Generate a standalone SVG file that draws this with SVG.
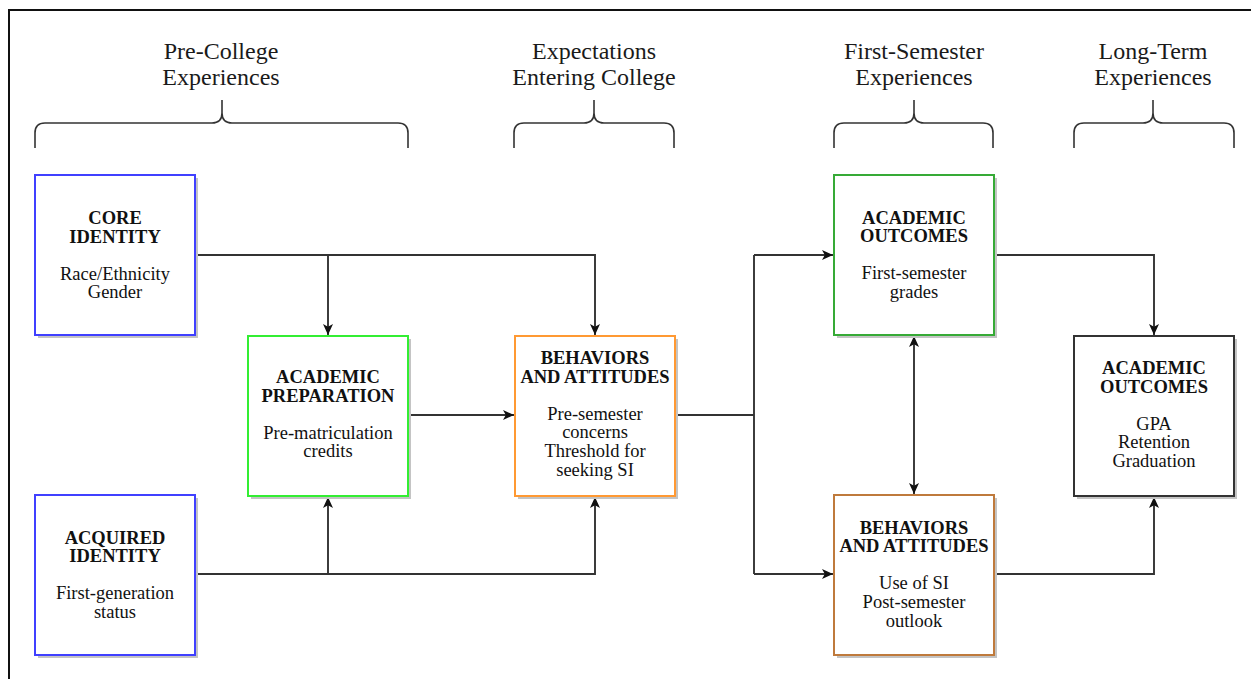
<svg xmlns="http://www.w3.org/2000/svg" width="1251" height="679" viewBox="0 0 1251 679">
<style>
.t{font-family:"Liberation Serif","Times New Roman",serif;font-size:24px;fill:#1a1a1a;text-anchor:middle}
.n{font-family:"Liberation Serif","Times New Roman",serif;font-size:18.5px;fill:#111;text-anchor:middle}
.b{font-weight:bold}
.sh{fill:#c4c4c4}
.box{fill:#fff;stroke-width:2}
.brace{fill:none;stroke:#333;stroke-width:1.6}
.c{fill:none;stroke:#333;stroke-width:1.9}
</style>
<defs>
<marker id="ah" markerUnits="userSpaceOnUse" markerWidth="13" markerHeight="13" viewBox="0 0 13 13" refX="12" refY="6.5" orient="auto-start-reverse">
<path d="M1,1.5 L12,6.5 L1,11.5 L3.8,6.5 Z" fill="#111"/>
</marker>
</defs>
<rect width="1251" height="679" fill="#fff"/>
<path d="M9,679 V10 H1251" fill="none" stroke="#111" stroke-width="2"/>

<g id="headers">
<text class="t" x="221" y="59">Pre-College</text>
<text class="t" x="221" y="85">Experiences</text>
<text class="t" x="594" y="59">Expectations</text>
<text class="t" x="594" y="85">Entering College</text>
<text class="t" x="914" y="59">First-Semester</text>
<text class="t" x="914" y="85">Experiences</text>
<text class="t" x="1153" y="59">Long-Term</text>
<text class="t" x="1153" y="85">Experiences</text>
<path class="brace" d="M35,148 V133 Q35,123 45,123 H212 Q222,123 222,113 V100 M222,113 Q222,123 232,123 H398 Q408,123 408,133 V148"/>
<path class="brace" d="M514,148 V133 Q514,123 524,123 H584 Q594,123 594,113 V100 M594,113 Q594,123 604,123 H664 Q674,123 674,133 V148"/>
<path class="brace" d="M834,148 V133 Q834,123 844,123 H904 Q914,123 914,113 V100 M914,113 Q914,123 924,123 H983 Q993,123 993,133 V148"/>
<path class="brace" d="M1074,148 V133 Q1074,123 1084,123 H1143 Q1153,123 1153,113 V100 M1153,113 Q1153,123 1163,123 H1224 Q1234,123 1234,133 V148"/>
</g>

<g id="connectors">
<path class="c" d="M195,255 H595 V335" marker-end="url(#ah)"/>
<path class="c" d="M328,255 V335" marker-end="url(#ah)"/>
<path class="c" d="M195,574 H595 V497" marker-end="url(#ah)"/>
<path class="c" d="M328,574 V497" marker-end="url(#ah)"/>
<path class="c" d="M408,415 H514" marker-end="url(#ah)"/>
<path class="c" d="M675,415 H754"/>
<path class="c" d="M754,255 V574"/>
<path class="c" d="M754,255 H833" marker-end="url(#ah)"/>
<path class="c" d="M754,574 H833" marker-end="url(#ah)"/>
<path class="c" d="M914,336 V494" marker-start="url(#ah)" marker-end="url(#ah)"/>
<path class="c" d="M994,255 H1154 V335" marker-end="url(#ah)"/>
<path class="c" d="M994,574 H1154 V497" marker-end="url(#ah)"/>
</g>

<g id="core-identity">
<rect class="sh" x="38" y="178" width="160" height="160"/>
<rect class="box" x="35" y="175" width="160" height="160" stroke="#4040ff"/>
<text class="n b" x="115" y="224">CORE</text>
<text class="n b" x="115" y="242.6">IDENTITY</text>
<text class="n" x="115" y="279.8">Race/Ethnicity</text>
<text class="n" x="115" y="298.4">Gender</text>
</g>

<g id="acquired-identity">
<rect class="sh" x="38" y="498" width="160" height="160"/>
<rect class="box" x="35" y="495" width="160" height="160" stroke="#4040ff"/>
<text class="n b" x="115" y="543.5">ACQUIRED</text>
<text class="n b" x="115" y="562.1">IDENTITY</text>
<text class="n" x="115" y="599.3">First-generation</text>
<text class="n" x="115" y="617.9">status</text>
</g>

<g id="academic-preparation">
<rect class="sh" x="251" y="339" width="160" height="160"/>
<rect class="box" x="248" y="336" width="160" height="160" stroke="#33ee33"/>
<text class="n b" x="328" y="383">ACADEMIC</text>
<text class="n b" x="328" y="401.6">PREPARATION</text>
<text class="n" x="328" y="438.8">Pre-matriculation</text>
<text class="n" x="328" y="457.4">credits</text>
</g>

<g id="behaviors-pre">
<rect class="sh" x="518" y="339" width="160" height="160"/>
<rect class="box" x="515" y="336" width="160" height="160" stroke="#ff9933"/>
<text class="n b" x="595" y="364">BEHAVIORS</text>
<text class="n b" x="595" y="382.6">AND ATTITUDES</text>
<text class="n" x="595" y="419.8">Pre-semester</text>
<text class="n" x="595" y="438.4">concerns</text>
<text class="n" x="595" y="457">Threshold for</text>
<text class="n" x="595" y="475.6">seeking SI</text>
</g>

<g id="academic-outcomes-first">
<rect class="sh" x="837" y="178" width="160" height="160"/>
<rect class="box" x="834" y="175" width="160" height="160" stroke="#36aa36"/>
<text class="n b" x="914" y="223.5">ACADEMIC</text>
<text class="n b" x="914" y="242.1">OUTCOMES</text>
<text class="n" x="914" y="279.3">First-semester</text>
<text class="n" x="914" y="297.9">grades</text>
</g>

<g id="behaviors-post">
<rect class="sh" x="837" y="498" width="160" height="160"/>
<rect class="box" x="834" y="495" width="160" height="160" stroke="#bf7a3c"/>
<text class="n b" x="914" y="533.5">BEHAVIORS</text>
<text class="n b" x="914" y="552.1">AND ATTITUDES</text>
<text class="n" x="914" y="589.3">Use of SI</text>
<text class="n" x="914" y="607.9">Post-semester</text>
<text class="n" x="914" y="626.5">outlook</text>
</g>

<g id="academic-outcomes-long">
<rect class="sh" x="1077" y="339" width="160" height="160"/>
<rect class="box" x="1074" y="336" width="160" height="160" stroke="#333"/>
<text class="n b" x="1154" y="374">ACADEMIC</text>
<text class="n b" x="1154" y="392.6">OUTCOMES</text>
<text class="n" x="1154" y="429.8">GPA</text>
<text class="n" x="1154" y="448.4">Retention</text>
<text class="n" x="1154" y="467">Graduation</text>
</g>
</svg>
